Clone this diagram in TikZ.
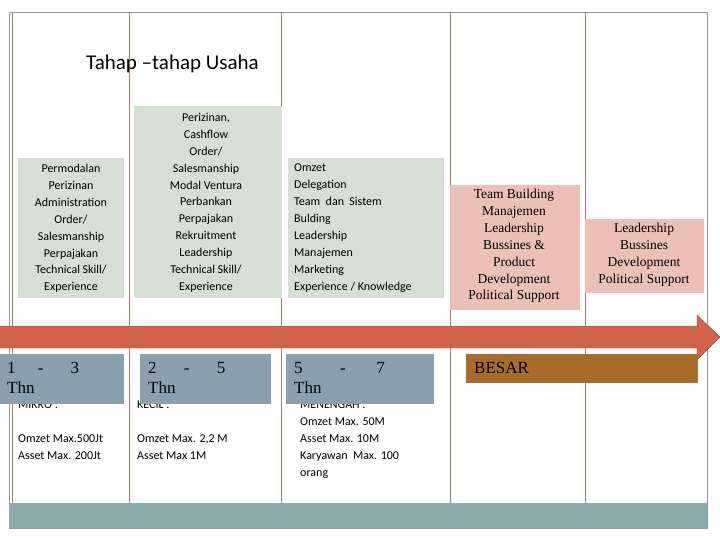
\documentclass[tikz,border=0pt]{standalone}
\usepackage{fontspec}
\setmainfont{Liberation Serif}
\newfontfamily\carfont{Carlito}
\definecolor{frm}{HTML}{8C9C9C}
\definecolor{vl}{HTML}{B07A6A}
\definecolor{bbar}{HTML}{8AABAB}
\definecolor{grn}{HTML}{D5DFD3}
\definecolor{pnk}{HTML}{EBC0B7}
\definecolor{arr}{HTML}{D0634A}
\definecolor{bgr}{HTML}{8AA0AC}
\definecolor{brn}{HTML}{A86C2C}
\begin{document}
\begin{tikzpicture}[x=1pt,y=-1pt,
 gbox/.style={fill=grn,draw=none},
 pbox/.style={fill=pnk,draw=none},
 gtxt/.style={font=\carfont\fontsize{12}{16.9}\selectfont,align=center,inner sep=0pt,anchor=north},
 ptxt/.style={font=\fontsize{13.5}{16.9}\selectfont,align=center,inner sep=0pt,anchor=north},
 ltxt/.style={font=\carfont\fontsize{12}{16.9}\selectfont,align=left,inner sep=0pt,anchor=north west},
 ntxt/.style={font=\fontsize{17}{20}\selectfont,align=left,inner sep=0pt,anchor=north west}]
\useasboundingbox (0,0) rectangle (720,540);
\draw[frm] (9,12) rectangle (707,528);
\fill[bbar] (9,503) rectangle (707,528);
\foreach \x in {12,129,281,450,585} \draw[vl] (\x,12) -- (\x,503);
\node[font=\carfont\fontsize{21}{24}\selectfont,anchor=west,inner sep=0pt] (title) at (86,64) {Tahap –tahap Usaha};
\fill[gbox] (18,158) rectangle (124,298);
\fill[gbox] (134,106) rectangle (282,298);
\fill[gbox] (288,158) rectangle (444,298);
\fill[pbox] (450,185) rectangle (580,310);
\fill[pbox] (585,219) rectangle (704,293);
\node[gtxt] (g1) at (71,164) {Permodalan\\Perizinan\\Administration\\Order/\\Salesmanship\\Perpajakan\\Technical Skill/\\Experience};
\node[gtxt] (g2) at (206,113) {Perizinan,\\Cashflow\\Order/\\Salesmanship\\Modal Ventura\\Perbankan\\Perpajakan\\Rekruitment\\Leadership\\Technical Skill/\\Experience};
\node[ltxt] (g3) at (294,164) {Omzet\\Delegation\\Team\ \ dan\ \ Sistem\\Bulding\\Leadership\\Manajemen\\Marketing\\Experience / Knowledge};
\node[ptxt] (p1) at (514,189) {Team Building\\Manajemen\\Leadership\\Bussines \&\\Product\\Development\\Political Support};
\node[ptxt] (p2) at (644,223) {Leadership\\Bussines\\Development\\Political Support};
\fill[arr] (0,326) -- (697,326) -- (697,315) -- (720,337) -- (697,360) -- (697,348) -- (0,348) -- cycle;
\draw[vl!70!black,line width=0.4pt] (0,326) -- (697,326) -- (697,315) -- (720,337) -- (697,360) -- (697,348) -- (0,348);
\node[ltxt] (l1) at (18,401) {MIKRO :\\[16.9pt]Omzet Max.500Jt\\Asset Max. 200Jt};
\node[ltxt] (l2) at (137,401) {KECIL :\\[16.9pt]Omzet Max. 2,2 M\\Asset Max 1M};
\node[ltxt] (l3) at (300,401) {MENENGAH :\\Omzet Max. 50M\\Asset Max. 10M\\Karyawan\ \ Max. 100\\orang};
\fill[bgr] (0,354) rectangle (124,404);
\fill[bgr] (140,354) rectangle (271,404);
\fill[bgr] (286,354) rectangle (434,404);
\fill[brn] (466,354) rectangle (698,383);
\node[ntxt] (n1) at (7,362) {1\hspace{1.3em}-\hspace{1.6em}3\\Thn};
\node[ntxt] (n2) at (148,362) {2\hspace{1.6em}-\hspace{1.6em}5\\Thn};
\node[ntxt] (n3) at (294,362) {5\hspace{2.2em}-\hspace{1.8em}7\\Thn};
\node[font=\fontsize{17}{20}\selectfont,anchor=west,inner sep=0pt] (besar) at (474,368) {BESAR};
\end{tikzpicture}
\end{document}
